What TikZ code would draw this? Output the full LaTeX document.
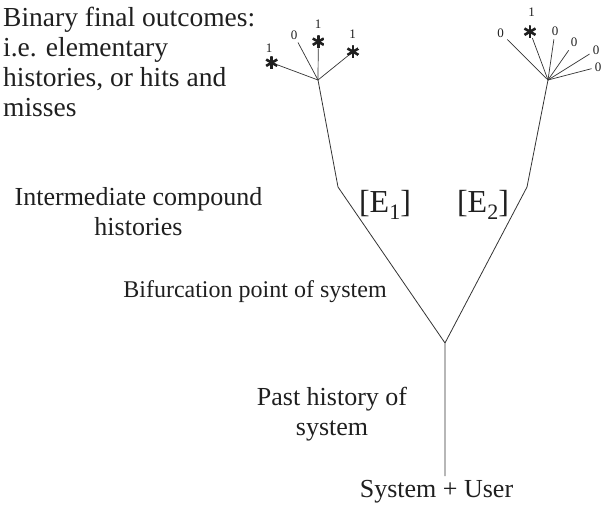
\documentclass[tikz,border=0pt]{standalone}
\usepackage{fontspec}
\setmainfont{Liberation Serif}
\begin{document}
\begin{tikzpicture}[x=1pt,y=-1pt,
  branch/.style={draw=black!80, line width=0.8pt, line join=round},
  ray/.style={draw=black!80, line width=0.7pt},
  caption/.style={inner sep=0pt, text=black!88, font=\fontsize{26}{30}\selectfont},
  elabel/.style={inner sep=0pt, text=black!88, font=\fontsize{32}{32}\selectfont},
  outcome/.style={inner sep=3pt, text=black!88, font=\fontsize{13}{13}\selectfont},
  value/.style={inner sep=0pt, text=black!88, font=\fontsize{13}{13}\selectfont},
  hit/.style={circle, minimum size=13pt, inner sep=0pt, path picture={
      \foreach \a in {30,90,150,210,270,330}
        \draw[line width=2.6pt, black!88] (path picture bounding box.center) -- ++(\a:6.5pt);}},
]
\useasboundingbox (0,0) rectangle (603,508);

% trunk and the two branches
\coordinate (root) at (445,476);
\coordinate (fork) at (445,343);
\coordinate (kinkL) at (338,187);
\coordinate (kinkR) at (527,187);
\coordinate (hubL) at (318,80);
\coordinate (hubR) at (548,80);
\draw[branch] (root) -- (fork) -- (kinkL) -- (hubL);
\draw[branch] (fork) -- (kinkR) -- (hubR);

% outcomes of the left branch
\node[hit] (l1) at (271.7,62.7) {};
\node[value] (l1v) at (269,48) {1};
\node[outcome] (l2) at (294,35) {0};
\node[hit] (l3) at (318.3,41.7) {};
\node[value] (l3v) at (318,24) {1};
\node[hit] (l4) at (353,51.7) {};
\node[value] (l4v) at (352.7,34) {1};
\foreach \n in {l1,l2,l3,l4}
  \draw[ray] (hubL) -- (\n);

% outcomes of the right branch
\node[outcome] (r1) at (500.7,33) {0};
\node[hit] (r2) at (530,31.7) {};
\node[value] (r2v) at (531.7,12) {1};
\node[outcome] (r3) at (555,31.7) {0};
\node[outcome] (r4) at (574,42.7) {0};
\node[outcome] (r5) at (596,50) {0};
\node[outcome] (r6) at (598,67) {0};
\foreach \n in {r1,r2,r3,r4,r5,r6}
  \draw[ray] (hubR) -- (\n);

% compound histories
\node[elabel, anchor=base] (E1) at (385,213) {[E\raisebox{-7pt}{\fontsize{22}{22}\selectfont 1}]};
\node[elabel, anchor=base] (E2) at (483,213) {[E\raisebox{-7pt}{\fontsize{22}{22}\selectfont 2}]};

% captions
\node[caption, anchor=base west] (outcomes) at (3,27)
  {\fontsize{27.5}{30}\selectfont\begin{tabular}[t]{@{}l@{}}Binary final outcomes:\\ i.e. elementary\\ histories, or hits and\\ misses\end{tabular}};
\node[caption, anchor=base] (compound) at (138.5,206)
  {\begin{tabular}[t]{@{}c@{}}Intermediate compound\\ histories\end{tabular}};
\node[caption, anchor=base, font=\fontsize{24}{28}\selectfont] (bifurcation) at (255,298) {Bifurcation point of system};
\node[caption, anchor=base] (past) at (332,405)
  {\begin{tabular}[t]{@{}c@{}}Past history of\\ system\end{tabular}};
\node[caption, anchor=base] (user) at (436.5,497) {System + User};
\end{tikzpicture}
\end{document}
